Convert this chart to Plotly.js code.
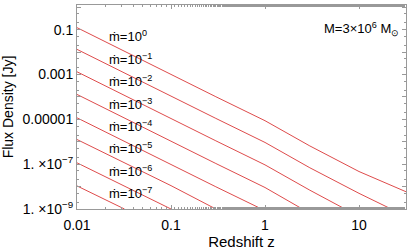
<!DOCTYPE html>
<html><head><meta charset="utf-8">
<script src="https://cdn.plot.ly/plotly-3.0.1.min.js"></script>
<style>html,body{margin:0;padding:0;background:#fff;}#chart{width:407px;height:252px;}</style>
</head><body><div id="chart"></div>
<script>
// Accretion-rate exponents (mdot = 10^k)
var mdotExps = [0, -1, -2, -3, -4, -5, -6, -7];
// Redshift samples for each curve
var z_m0 = [0.01, 0.03, 0.1, 0.3, 1, 3, 10, 31.6];
var z_m1 = [0.01, 0.03, 0.1, 0.3, 1, 3, 10, 22];
var z_m2 = [0.01, 0.03, 0.1, 0.3, 1, 3, 7.1];
var z_m3 = [0.01, 0.03, 0.1, 0.3, 1, 2.5];
var z_m4 = [0.01, 0.03, 0.1, 0.3, 0.92];
var z_m5 = [0.01, 0.03, 0.1, 0.3];
var z_m6 = [0.01, 0.03, 0.1];
var z_m7 = [0.01, 0.032];
// Flux density [Jy]
var f_m0 = [0.123, 0.0123, 1.07e-3, 1.02e-4, 8.7e-6, 6.5e-7, 4.7e-8, 5.9e-9];
var f_m1 = [1.32e-2, 1.32e-3, 1.15e-4, 1.10e-5, 9.3e-7, 6.9e-8, 5.0e-9, 1e-9];
var f_m2 = [1.32e-3, 1.32e-4, 1.15e-5, 1.10e-6, 9.3e-8, 6.9e-9, 1e-9];
var f_m3 = [1.29e-4, 1.29e-5, 1.12e-6, 1.07e-7, 9.1e-9, 1e-9];
var f_m4 = [1.17e-5, 1.17e-6, 1.02e-7, 9.8e-9, 1e-9];
var f_m5 = [1.26e-6, 1.26e-7, 1.10e-8, 1e-9];
var f_m6 = [1.15e-7, 1.15e-8, 1e-9];
var f_m7 = [1.07e-8, 1e-9];
// Tick labels
var xTickVals = [0.01, 0.1, 1, 10];
var xTickText = ['0.01', '0.1', '1', '10'];
var yTickVals = [1e-9, 1e-8, 1e-7, 1e-6, 1e-5, 1e-4, 1e-3, 1e-2, 1e-1, 1];
var yTickText = ['1. \u00d710<sup>\u22129</sup>', '', '1. \u00d710<sup>\u22127</sup>', '', '0.00001', '', '0.001', '', '0.1', ''];
var massLabel = 'M=3\u00d710<sup>6</sup> M<sub>\u2299</sub>';

var zs = [z_m0, z_m1, z_m2, z_m3, z_m4, z_m5, z_m6, z_m7];
var fs = [f_m0, f_m1, f_m2, f_m3, f_m4, f_m5, f_m6, f_m7];
var FONT = 'Liberation Sans, Arial, Helvetica, sans-serif';
var lineColor = 'rgb(222,75,75)';
var traces = zs.map(function (z, i) {
  return {x: z, y: fs[i], mode: 'lines', type: 'scatter',
          line: {color: lineColor, width: 1}, hoverinfo: 'skip', showlegend: false};
});
var labelLogZ = -1.68, labelLogF0 = -1.30;
var annotations = mdotExps.map(function (k, i) {
  var e = (k < 0 ? '\u2212' + (-k) : '' + k);
  return {x: labelLogZ, y: labelLogF0 - i, xref: 'x', yref: 'y',
          text: 'm\u0307=10<sup>' + e + '</sup>', showarrow: false,
          xanchor: 'left', yanchor: 'middle', font: {family: FONT, size: 13, color: '#000'}};
});
annotations.push({x: 0.985, y: 0.88, xref: 'paper', yref: 'paper', text: massLabel,
  showarrow: false, xanchor: 'right', yanchor: 'middle', font: {family: FONT, size: 13, color: '#000'}});
var axisCommon = {showline: true, linecolor: '#999', linewidth: 1, mirror: 'ticks',
  ticks: 'inside', ticklen: 4, tickcolor: '#999', showgrid: false, zeroline: false,
  tickfont: {family: FONT, size: 14, color: '#000'},
  minor: {ticks: 'inside', ticklen: 2, tickcolor: '#999', showgrid: false}};
var layout = {
  width: 407, height: 252,
  margin: {l: 77, r: 1, t: 5, b: 43},
  paper_bgcolor: '#fff', plot_bgcolor: '#fff',
  font: {family: FONT, size: 13, color: '#000'},
  xaxis: Object.assign({}, axisCommon, {type: 'log', range: [-2, 1.5],
    tickmode: 'array', tickvals: xTickVals, ticktext: xTickText, ticklabelstandoff: 3,
    title: {text: 'Redshift z', font: {family: FONT, size: 15, color: '#000'}, standoff: 4}}),
  yaxis: Object.assign({}, axisCommon, {type: 'log', range: [-9, 0.1],
    tickmode: 'array', tickvals: yTickVals, ticktext: yTickText,
    title: {text: 'Flux Density [Jy]', font: {family: FONT, size: 14, color: '#000'}, standoff: 6}}),
  annotations: annotations,
  showlegend: false
};
Plotly.newPlot('chart', traces, layout, {staticPlot: true, displayModeBar: false});
</script></body></html>
